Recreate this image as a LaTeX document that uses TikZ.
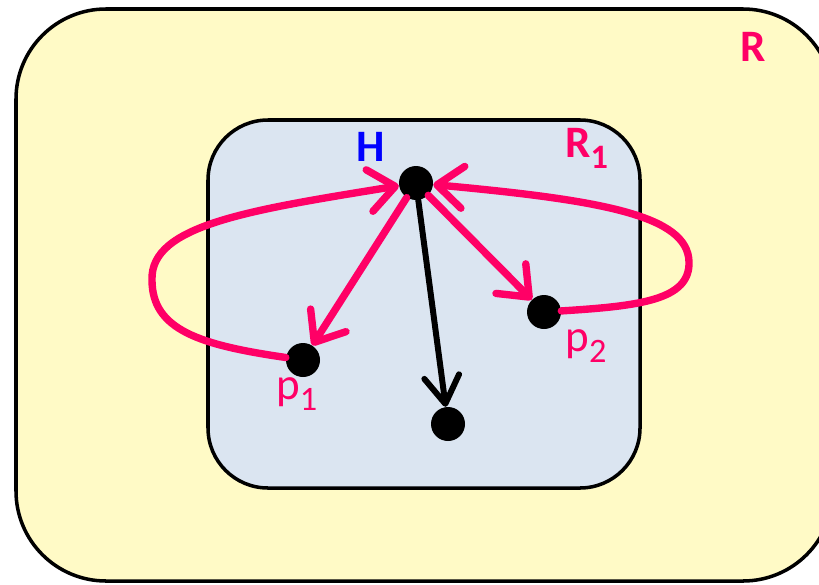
\documentclass[tikz,border=0pt]{standalone}
\usepackage{fontspec}
\setmainfont{Carlito}
\usetikzlibrary{arrows.meta}
\definecolor{rosa}{HTML}{FF0066}
\definecolor{gelb}{HTML}{FFFAC6}
\definecolor{hellblau}{HTML}{DBE5F1}
\newcommand{\idx}[1]{\raisebox{-6.5pt}{\fontsize{19.5}{24}\selectfont #1}}
\begin{document}
\begin{tikzpicture}[
    dot/.style={circle,fill=black,minimum size=0.68cm,inner sep=0pt},
    lbl/.style={font=\fontsize{25.6}{30}\selectfont,inner sep=0pt,anchor=base west},
    rosaline/.style={rosa,line width=4.2pt,line cap=round},
    barb/.style={-{Straight Barb[length=5.2mm,width=8.4mm,round]}}
    ]
        \useasboundingbox (0,0) rectangle (16.38,11.68);
        \draw[line width=2pt,fill=gelb,rounded corners=1.8cm] (0.32,0.06) rectangle (16.66,11.5);
        \draw[line width=2pt,fill=hellblau,rounded corners=1.2cm] (4.16,1.92) rectangle (12.8,9.28);
        \node[dot] (H) at (8.32,8.02) {};
        \node[dot] (p1) at (6.06,4.48) {};
        \node[dot] (p2) at (10.88,5.44) {};
        \node[dot] (bot) at (8.96,3.2) {};
        \node[lbl,rosa] (rlab) at (14.8,10.44) {\bfseries R};
        \node[lbl,rosa] (r1lab) at (11.3,8.54) {\bfseries R\idx{1}};
        \node[lbl,blue] (hlab) at (7.12,8.46) {\bfseries H};
        \node[lbl,rosa] (p1lab) at (5.52,3.7) {p\idx{1}};
        \node[lbl,rosa] (p2lab) at (11.3,4.66) {p\idx{2}};
        \draw[rosaline,barb] (H) -- (p1);
        \draw[rosaline,barb] (H) -- (p2);
        \draw[line width=3.4pt,line cap=round,-{Straight Barb[length=5.5mm,width=7mm,round]}] (H) -- (bot);
        \draw[rosaline,barb] (p1) .. controls (4.0,4.78) and (3.04,5.08) .. (3.04,6.08)
            .. controls (3.0,7.18) and (5.0,7.48) .. (H);
        \draw[rosaline,barb] (p2) .. controls (12.8,5.56) and (13.8,5.68) .. (13.78,6.44)
            .. controls (13.76,7.38) and (12.0,7.68) .. (H);
\end{tikzpicture}
\end{document}
